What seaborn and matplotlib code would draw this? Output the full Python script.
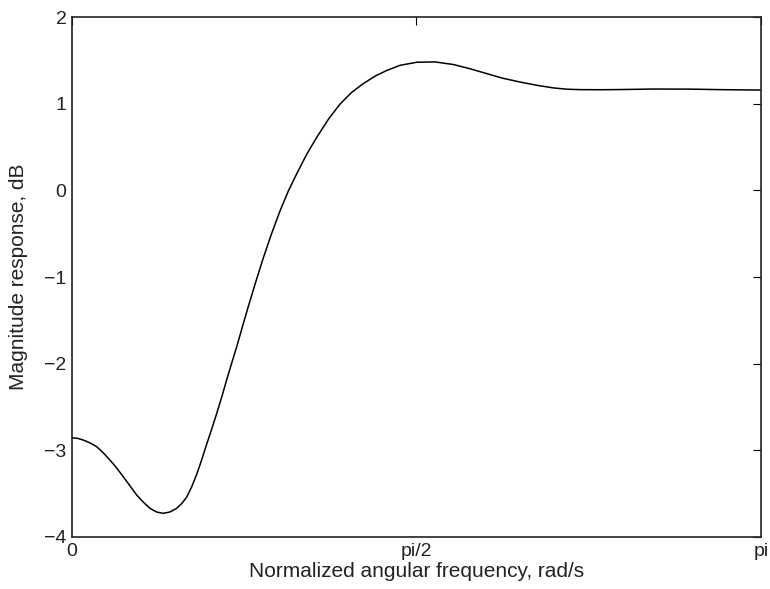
import numpy as np
import matplotlib
matplotlib.use("Agg")
import matplotlib.pyplot as plt
import seaborn as sns

# Values (frequency in rad/s, magnitude in dB)
freq = [0.0, 0.026, 0.052, 0.083, 0.113, 0.143, 0.173, 0.204, 0.234, 0.265,
        0.295, 0.326, 0.356, 0.386, 0.416, 0.446, 0.477, 0.500, 0.523, 0.546,
        0.569, 0.592, 0.614, 0.637, 0.660, 0.683, 0.705, 0.728, 0.751, 0.777,
        0.804, 0.838, 0.871, 0.910, 0.948, 0.986, 1.025, 1.070, 1.116, 1.169,
        1.222, 1.275, 1.328, 1.382, 1.435, 1.496, 1.572, 1.655, 1.739, 1.815,
        1.891, 1.965, 2.043, 2.120, 2.195, 2.257, 2.316, 2.407, 2.499, 2.649,
        2.818, 2.955, 3.1416]
mag_db = [-2.855, -2.862, -2.882, -2.915, -2.959, -3.030, -3.112, -3.205, -3.305, -3.412,
          -3.516, -3.600, -3.670, -3.712, -3.727, -3.712, -3.670, -3.615, -3.540, -3.420,
          -3.275, -3.105, -2.930, -2.755, -2.573, -2.383, -2.189, -1.995, -1.805, -1.575,
          -1.340, -1.055, -0.790, -0.500, -0.240, -0.010, 0.193, 0.415, 0.612, 0.820,
          0.995, 1.130, 1.231, 1.318, 1.383, 1.443, 1.478, 1.482, 1.452, 1.403,
          1.347, 1.293, 1.250, 1.212, 1.182, 1.167, 1.162, 1.161, 1.163, 1.169,
          1.168, 1.162, 1.157]

xtick_pos = [0, np.pi / 2, np.pi]
xtick_labels = ['0', 'pi/2', 'pi']
ytick_pos = [-4, -3, -2, -1, 0, 1, 2]

sns.set_style('white')
plt.rcParams['font.family'] = ['Liberation Sans', 'DejaVu Sans']
plt.rcParams['axes.unicode_minus'] = True

fig = plt.figure(figsize=(7.7, 5.89), dpi=100)
ax = fig.add_axes([0.0935, 0.0883, 0.8948, 0.8828])

sns.lineplot(x=freq, y=mag_db, ax=ax, color='black', linewidth=1.1)

ax.set_xlim(0, np.pi)
ax.set_ylim(-4, 2)
ax.set_xticks(xtick_pos)
ax.set_xticklabels(xtick_labels)
ax.set_yticks(ytick_pos)
ax.tick_params(direction='in', length=6, width=0.8, top=True, right=True,
               labelsize=14, pad=4, colors='black', labelcolor='#222222')
for s in ax.spines.values():
    s.set_color('#222222')
    s.set_linewidth(1.2)

ax.set_xlabel('Normalized angular frequency, rad/s', fontsize=15, color='#222222', va='center')
ax.set_ylabel('Magnitude response, dB', fontsize=15, color='#222222', va='center')
ax.xaxis.set_label_coords(0.5, -0.066)
ax.yaxis.set_label_coords(-0.078, 0.5)

fig.savefig('out.png', dpi=100)
